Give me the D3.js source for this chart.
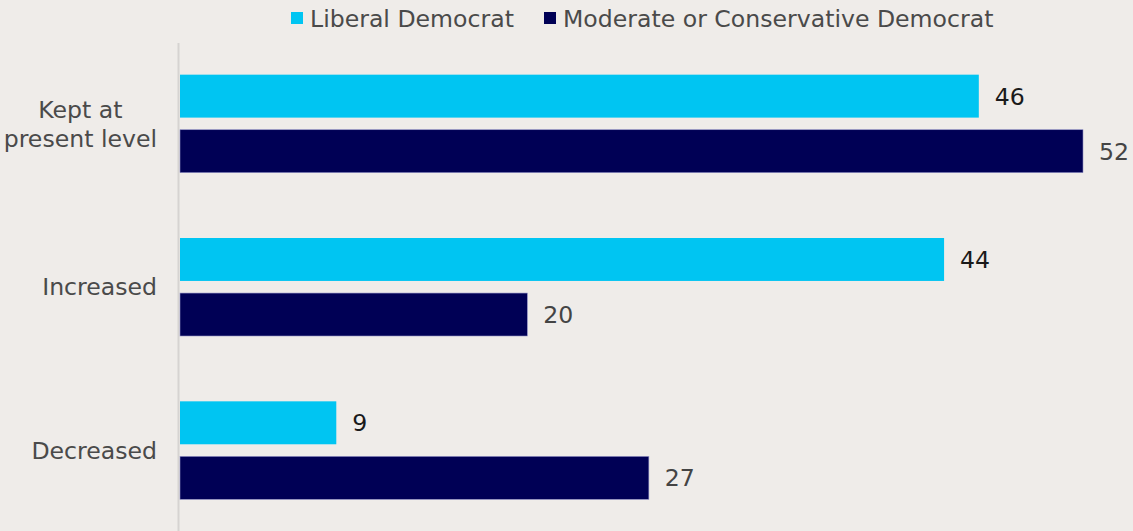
<!DOCTYPE html>
<html><head><meta charset="utf-8">
<script src="https://cdn.jsdelivr.net/npm/d3@7"></script>
<style>html,body{margin:0;padding:0;background:#efece9;}svg{display:block;}</style>
</head><body>
<svg id="c" width="1133" height="531"></svg>
<script>
const categories = ["Kept at present level", "Increased", "Decreased"];
const categoryLines = [["Kept at", "present level"], ["Increased"], ["Decreased"]];
const seriesNames = ["Liberal Democrat", "Moderate or Conservative Democrat"];
const liberal = [46, 44, 9];
const moderate = [52, 20, 27];
const colors = ["#00c5f2", "#000055"];
const labelColors = ["#1a1a1a", "#444444"];

const W = 1133, H = 531;
const svg = d3.select("#c");
svg.append("rect").attr("width", W).attr("height", H).attr("fill", "#efece9");
const font = "'DejaVu Sans', sans-serif";
const fs = 23.6;

const x = d3.scaleLinear().domain([0, 52]).range([180, 1083]);
const y = d3.scaleBand().domain(categories).range([42, 532]).paddingInner(0.4).paddingOuter(0.2);
const ySub = d3.scaleBand().domain(seriesNames).range([0, y.bandwidth()]).paddingInner(0.22);

// axis line
svg.append("line").attr("x1", 178.5).attr("x2", 178.5).attr("y1", 43).attr("y2", H)
  .attr("stroke", "#d6d3d1").attr("stroke-width", 2);

const series = [liberal, moderate];
series.forEach((vals, si) => {
  const g = svg.append("g");
  g.selectAll("rect").data(categories).join("rect")
    .attr("x", x(0))
    .attr("y", c => y(c) + ySub(seriesNames[si]))
    .attr("width", (c, i) => x(vals[i]) - x(0))
    .attr("height", ySub.bandwidth())
    .attr("fill", colors[si])
    .attr("stroke", si === 1 ? "#8f8fc4" : "none")
    .attr("stroke-width", si === 1 ? 0.6 : 0);
  g.selectAll("text").data(categories).join("text")
    .attr("x", (c, i) => x(vals[i]) + 16)
    .attr("y", c => y(c) + ySub(seriesNames[si]) + ySub.bandwidth() / 2)
    .attr("dy", "0.36em")
    .attr("font-family", font).attr("font-size", fs)
    .attr("fill", labelColors[si])
    .text((c, i) => vals[i]);
});

// category labels: block right-aligned at 157, lines centered
categories.forEach((c, i) => {
  const lines = categoryLines[i];
  const lh = 29;
  const cy = y(c) + y.bandwidth() / 2;
  const t = svg.append("text").attr("font-family", font).attr("font-size", fs)
    .attr("fill", "#4a4a4a").attr("text-anchor", "middle");
  const tspans = lines.map((l, k) => t.append("tspan").text(l)
      .attr("y", cy + (k - (lines.length - 1) / 2) * lh).attr("dy", "0.36em"));
  let maxW = 0;
  tspans.forEach(ts => { maxW = Math.max(maxW, ts.node().getComputedTextLength()); });
  tspans.forEach(ts => ts.attr("x", 157 - maxW / 2));
});

// legend
const legX = [291, 544];
seriesNames.forEach((n, i) => {
  svg.append("rect").attr("x", legX[i]).attr("y", 12).attr("width", 12).attr("height", 12).attr("fill", colors[i]);
  svg.append("text").attr("x", legX[i] + 19).attr("y", 18.5).attr("dy", "0.36em")
    .attr("font-family", font).attr("font-size", fs).attr("fill", "#4a4a4a").text(n);
});
</script>
</body></html>
